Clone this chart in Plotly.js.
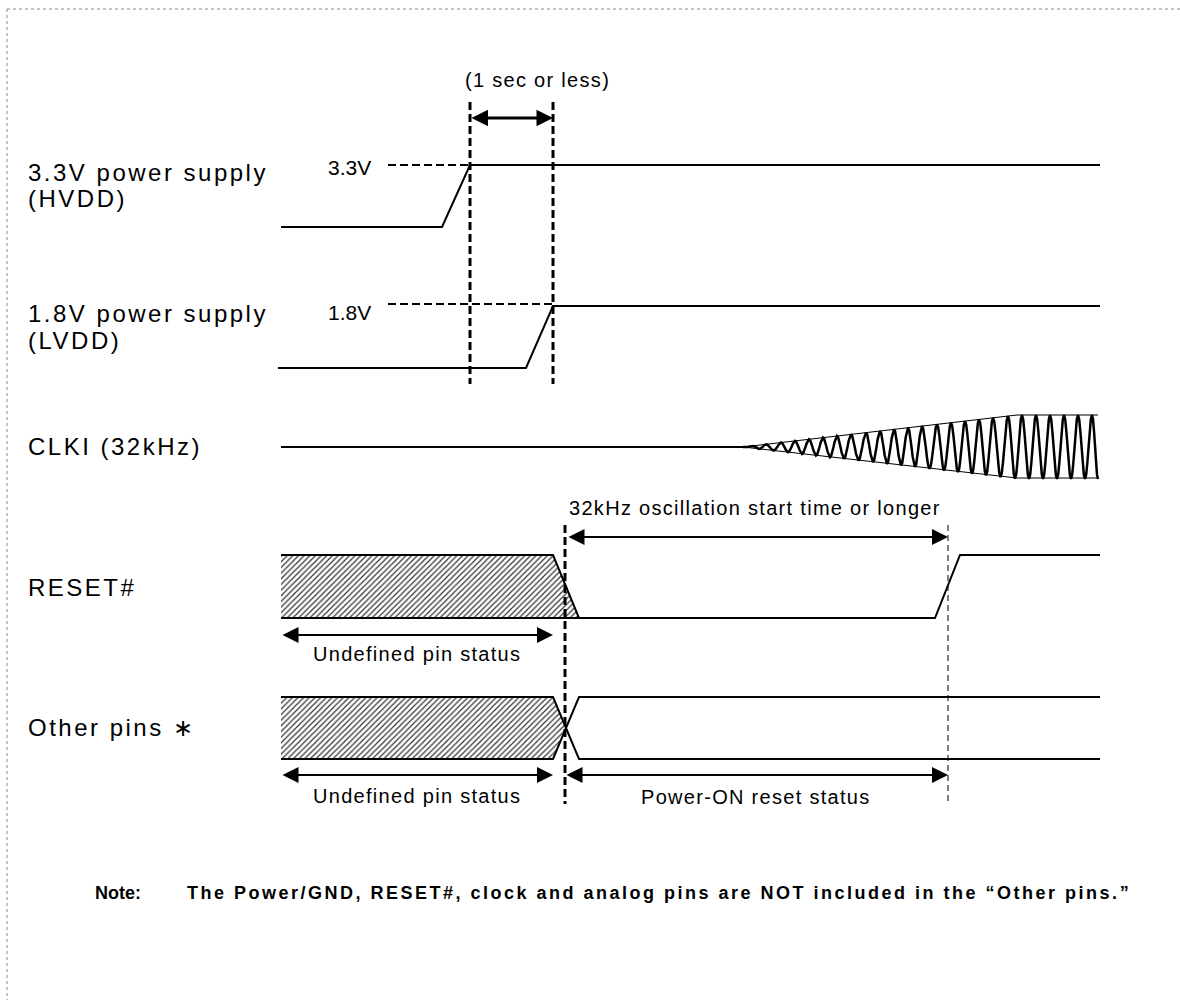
<!DOCTYPE html>
<html>
<head>
<meta charset="utf-8">
<script src="https://cdn.plot.ly/plotly-3.0.1.min.js"></script>
<style>
html,body{margin:0;padding:0;background:#fff;}
#chart{width:1180px;height:1000px;}
</style>
</head>
<body>
<div id="chart"></div>
<script>
// ---------- DATA (x = time in drawing units, y = signal level in drawing units) ----------
const signalLabels = ["3.3V power supply", "(HVDD)", "1.8V power supply", "(LVDD)", "CLKI (32kHz)", "RESET#", "Other pins \u2217"];
const signalLabelY = [172, 198, 313, 340, 446, 587, 727];

const hvddX = [281, 442, 470, 1100];
const hvddY = [227, 227, 165, 165];
const lvddX = [278, 526, 553, 1100];
const lvddY = [368, 368, 306, 306];

const clkFlatX = [281, 743];
const clkFlatY = [447, 447];
const clkEnvX = [743, 1017, 1098];
const clkEnvTop = [447, 415, 415];
const clkEnvBot = [447, 478, 478];
const clkMid = 447;
// x of each clock cycle top peak
const clkPeakX = [752, 766, 781, 795, 809, 823, 837, 851, 866, 880, 894, 908, 922, 937, 951, 965, 979, 993, 1008, 1022, 1036, 1050, 1064, 1078, 1092];

const resetHatchX = [281, 553, 579, 281];
const resetHatchY = [555, 555, 618, 618];
const resetX = [281, 553, 579, 935, 960, 1100];
const resetY = [555, 555, 618, 618, 555, 555];
const resetBottomX = [281, 579];
const resetBottomY = [618, 618];

const otherHatchX = [281, 553, 565, 553, 281];
const otherHatchY = [697, 697, 728, 759, 759];
const otherAX = [281, 553, 579, 1100];
const otherAY = [697, 697, 759, 759];
const otherBX = [281, 553, 579, 1100];
const otherBY = [759, 759, 697, 697];

const thickDashX = [470, 553, 565];
const thickDashTop = [102, 102, 525];
const thickDashBot = [384, 384, 804];
const thinDashX = [948];
const thinDashTop = [525];
const thinDashBot = [805];

const levelDashX0 = [388, 388];
const levelDashX1 = [470, 553];
const levelDashY = [165, 304];
const levelLabels = ["3.3V", "1.8V"];
const levelLabelY = [167, 312];

const arrowX0 = [470, 567, 281, 281, 565];
const arrowX1 = [553, 948, 553, 553, 948];
const arrowY = [118, 537, 635, 775, 775];
const arrowW = [3, 2, 2, 2, 2];
const arrowText = ["(1 sec or less)", "32kHz oscillation start time or longer", "Undefined pin status", "Undefined pin status", "Power-ON reset status"];
const arrowTextX = [537, 755, 417, 417, 756];
const arrowTextY = [80, 508, 654, 796, 797];

const noteLabel = "Note:";
const noteText = "The Power/GND, RESET#, clock and analog pins are NOT included in the \u201cOther pins.\u201d";

// ---------- BUILD ----------
const FONT = "Arial, 'Liberation Sans', sans-serif";
const traces = [];
function line(x, y, w, dash) {
  traces.push({x: x, y: y, mode: 'lines', line: {color: '#000', width: w || 2, dash: dash || 'solid'}, hoverinfo: 'skip', showlegend: false});
}
function spaced(t, px) { return '<span style="letter-spacing:' + px + 'px">' + t + '</span>'; }

// hatched areas
const hatch = {shape: '/', size: 4, solidity: 0.3, fgcolor: '#333', bgcolor: '#fff'};
traces.push({x: resetHatchX, y: resetHatchY, mode: 'lines', fill: 'toself', line: {width: 0}, fillcolor: 'rgba(0,0,0,0)',
  fillpattern: hatch, hoverinfo: 'skip', showlegend: false});
traces.push({x: otherHatchX, y: otherHatchY, mode: 'lines', fill: 'toself', line: {width: 0}, fillcolor: 'rgba(0,0,0,0)',
  fillpattern: hatch, hoverinfo: 'skip', showlegend: false});

line(hvddX, hvddY, 2);
line(lvddX, lvddY, 2);
line(clkFlatX, clkFlatY, 2);
line(clkEnvX, clkEnvTop, 1);
line(clkEnvX, clkEnvBot, 1);
line(resetX, resetY, 2);
line(resetBottomX, resetBottomY, 2);
line(otherAX, otherAY, 2);
line(otherBX, otherBY, 2);

// clock oscillation built from peak positions and envelope
function envAmp(x) {
  for (let i = 0; i < clkEnvX.length - 1; i++) {
    if (x <= clkEnvX[i + 1]) {
      const t = (x - clkEnvX[i]) / (clkEnvX[i + 1] - clkEnvX[i]);
      const top = clkEnvTop[i] + t * (clkEnvTop[i + 1] - clkEnvTop[i]);
      return clkMid - top;
    }
  }
  return clkMid - clkEnvTop[clkEnvTop.length - 1];
}
const cx = [clkEnvX[0]], cy = [clkMid];
for (let k = 0; k < clkPeakX.length; k++) {
  const p = clkPeakX[k];
  const prevTrough = k === 0 ? clkEnvX[0] : (clkPeakX[k - 1] + p) / 2;
  const nextTrough = k === clkPeakX.length - 1 ? clkEnvX[clkEnvX.length - 1] : (clkPeakX[k + 1] + p) / 2;
  const steps = 6;
  for (let s = 1; s <= steps; s++) {
    const x = prevTrough + (p - prevTrough) * s / steps;
    const a = envAmp(x) * (-Math.cos(Math.PI * s / steps));
    cx.push(x); cy.push(clkMid - a);
  }
  for (let s = 1; s <= steps; s++) {
    const x = p + (nextTrough - p) * s / steps;
    const a = envAmp(x) * Math.cos(Math.PI * s / steps);
    cx.push(x); cy.push(clkMid - a);
  }
}
line(cx, cy, 2.5);

// dashed verticals and level markers
for (let i = 0; i < thickDashX.length; i++) line([thickDashX[i], thickDashX[i]], [thickDashTop[i], thickDashBot[i]], 3, '8px,4px');
for (let i = 0; i < thinDashX.length; i++) line([thinDashX[i], thinDashX[i]], [thinDashTop[i], thinDashBot[i]], 1, '6px,4px');
for (let i = 0; i < levelDashY.length; i++) line([levelDashX0[i], levelDashX1[i]], [levelDashY[i], levelDashY[i]], 2, '8px,4px');

const annotations = [];
for (let i = 0; i < signalLabels.length; i++) {
  annotations.push({x: 26, y: signalLabelY[i], xref: 'x', yref: 'y', text: spaced(signalLabels[i], 2.5), showarrow: false,
    xanchor: 'left', yanchor: 'middle', font: {family: FONT, size: 24, color: '#000'}});
}
for (let i = 0; i < levelLabels.length; i++) {
  annotations.push({x: levelDashX0[i] - 15, y: levelLabelY[i], xref: 'x', yref: 'y', text: levelLabels[i], showarrow: false,
    xanchor: 'right', yanchor: 'middle', font: {family: FONT, size: 21, color: '#000'}});
}
for (let i = 0; i < arrowX0.length; i++) {
  annotations.push({x: arrowX1[i], y: arrowY[i], ax: arrowX0[i], ay: arrowY[i], xref: 'x', yref: 'y', axref: 'x', ayref: 'y',
    text: '', showarrow: true, arrowhead: 2, startarrowhead: 2, arrowside: 'end+start', arrowwidth: arrowW[i],
    arrowsize: i === 0 ? 1.1 : 1.6, startarrowsize: i === 0 ? 1.1 : 1.6, arrowcolor: '#000', standoff: 0, startstandoff: 0});
  annotations.push({x: arrowTextX[i], y: arrowTextY[i], xref: 'x', yref: 'y', text: spaced(arrowText[i], 1.3), showarrow: false,
    xanchor: 'center', yanchor: 'middle', font: {family: FONT, size: 20, color: '#000'}});
}
annotations.push({x: 93, y: 893, xref: 'x', yref: 'y', text: '<b>' + noteLabel + '</b>', showarrow: false, xanchor: 'left', yanchor: 'middle',
  font: {family: FONT, size: 18, color: '#000'}});
annotations.push({x: 185, y: 893, xref: 'x', yref: 'y', text: '<b>' + spaced(noteText, 2.5) + '</b>', showarrow: false, xanchor: 'left', yanchor: 'middle',
  font: {family: FONT, size: 18, color: '#000'}});

const layout = {
  width: 1180, height: 1000,
  margin: {l: 0, r: 0, t: 0, b: 0},
  paper_bgcolor: '#fff', plot_bgcolor: '#fff',
  xaxis: {range: [0, 1180], visible: false, fixedrange: true},
  yaxis: {range: [1000, 0], visible: false, fixedrange: true},
  showlegend: false,
  annotations: annotations,
  shapes: [
    {type: 'line', xref: 'x', yref: 'y', x0: 7, x1: 7, y0: 9, y1: 1000, line: {color: '#888', width: 1, dash: 'dot'}},
    {type: 'line', xref: 'x', yref: 'y', x0: 7, x1: 1180, y0: 9, y1: 9, line: {color: '#888', width: 1, dash: 'dot'}}
  ]
};
Plotly.newPlot('chart', traces, layout, {staticPlot: true, displayModeBar: false});
</script>
</body>
</html>
